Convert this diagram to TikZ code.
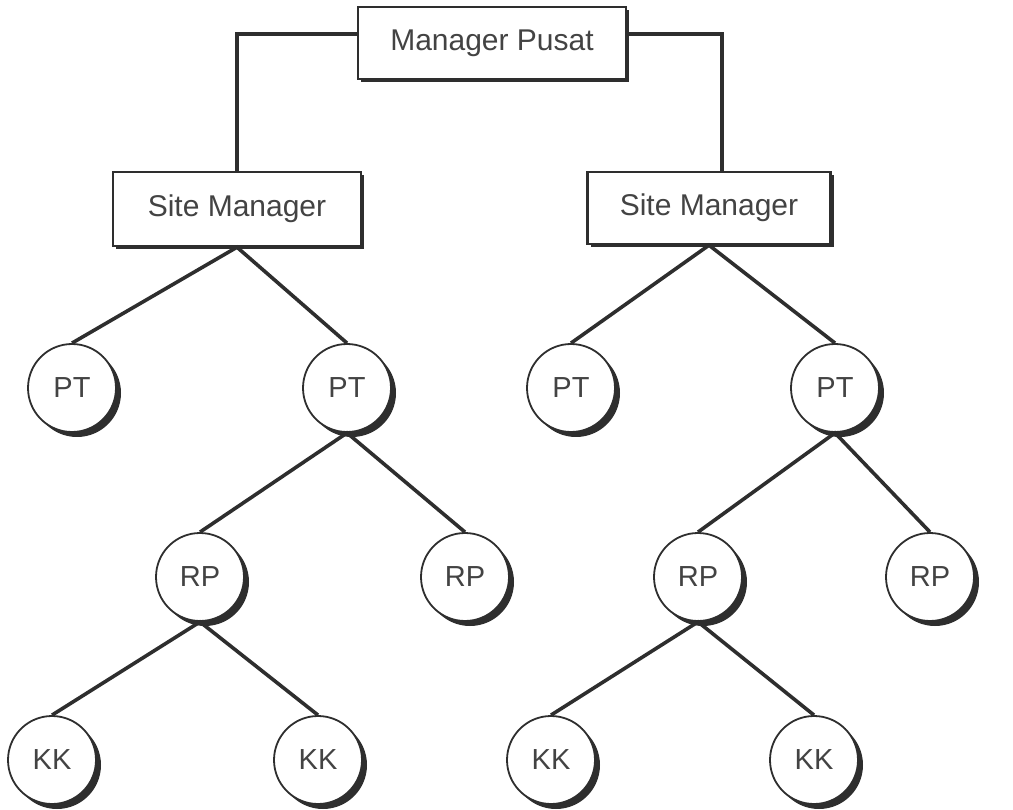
\documentclass[tikz,border=0pt]{standalone}
\usepackage{fontspec}
\setmainfont{Liberation Sans}
\usetikzlibrary{shapes, shadows, positioning}
\definecolor{ink}{HTML}{2E2E2E}
\tikzset{
  boss/.style={draw=ink, rectangle, line width=2.4pt, fill=white, text=ink!90,
    font=\fontsize{30}{32}\selectfont,
    drop shadow={shadow xshift=3pt, shadow yshift=-3pt, opacity=1, fill=ink}},
  staff/.style={draw=ink, circle, line width=1.8pt, fill=white, text=ink!90,
    minimum size=88pt, inner sep=0pt, font=\fontsize{29}{30}\selectfont,
    drop shadow={shadow xshift=5pt, shadow yshift=-5pt, opacity=1, fill=ink}},
  link/.style={draw=ink, line width=3.6pt}
}

\begin{document}
\begin{tikzpicture}[x=1pt, y=-1pt]
  \useasboundingbox (0,0) rectangle (1013,810);
  % top
  \node[boss, minimum width=268pt, minimum height=72pt] (mp) at (492,43) {Manager Pusat};
  \node[boss, minimum width=248pt, minimum height=74pt] (sm1) at (237,209) {Site Manager};
  \node[boss, minimum width=243pt, minimum height=72pt] (sm2) at (709,208) {Site Manager};
  % circles
  \node[staff] (pt1) at (72,388) {PT};
  \node[staff] (pt2) at (347,388) {PT};
  \node[staff] (pt3) at (571,388) {PT};
  \node[staff] (pt4) at (835,388) {PT};
  \node[staff] (rp1) at (200,577) {RP};
  \node[staff] (rp2) at (465,577) {RP};
  \node[staff] (rp3) at (698,577) {RP};
  \node[staff] (rp4) at (930,577) {RP};
  \node[staff] (kk1) at (52,760) {KK};
  \node[staff] (kk2) at (318,760) {KK};
  \node[staff] (kk3) at (551,760) {KK};
  \node[staff] (kk4) at (814,760) {KK};
  % links
  \draw[link] ([yshift=9pt]mp.west) -| (sm1.north);
  \draw[link] ([yshift=9pt]mp.east) -| ([xshift=13pt]sm2.north);
  \draw[link] (pt1.north) -- (sm1.south) -- (pt2.north);
  \draw[link] (pt3.north) -- (sm2.south) -- (pt4.north);
  \draw[link] (rp1.north) -- (pt2.south) -- (rp2.north);
  \draw[link] (rp3.north) -- (pt4.south) -- (rp4.north);
  \draw[link] (kk1.north) -- (rp1.south) -- (kk2.north);
  \draw[link] (kk3.north) -- (rp3.south) -- (kk4.north);
\end{tikzpicture}
\end{document}
